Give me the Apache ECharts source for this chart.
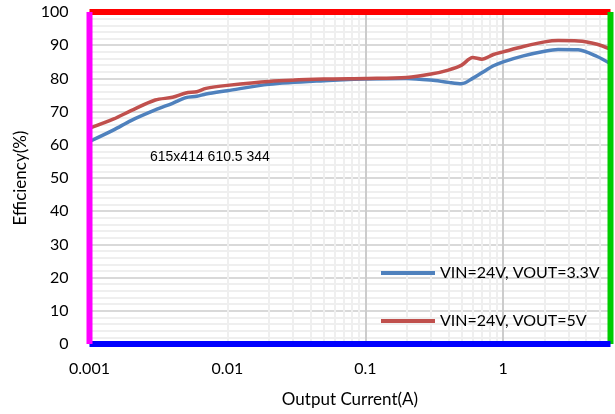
<!DOCTYPE html>
<html><head><meta charset="utf-8">
<script src="https://cdn.jsdelivr.net/npm/echarts@6/dist/echarts.min.js"></script>
<style>html,body{margin:0;padding:0;background:#fff}#c{width:615px;height:414px}</style>
</head><body><div id="c"></div>
<script>
const currents = [0.001,0.0015,0.002,0.003,0.004,0.005,0.006,0.007,0.01,0.02,0.05,0.1,0.2,0.3,0.4,0.5,0.6,0.7,0.85,1,1.4,2,2.5,3.5,4.8,6];
const eff33 = [61,64.5,67.3,70.5,72.5,74.2,74.6,75.3,76.3,78.2,79.3,79.8,80.0,79.5,78.8,78.4,80.0,81.7,83.8,85.0,86.8,88.2,88.7,88.6,86.6,84.4];
const eff5  = [65,67.8,70.3,73.5,74.3,75.6,76.0,77.0,77.9,79.1,79.8,80.0,80.3,81.3,82.5,84.0,86.3,85.8,87.2,88.0,89.6,91.0,91.4,91.3,90.3,88.8];
const seriesNames = ['VIN=24V, VOUT=3.3V','VIN=24V, VOUT=5V'];
const xTickLabels = ['0.001','0.01','0.1','1'];
const xTickValues = [0.001,0.01,0.1,1];
const xMin = 0.001, xMax = 6, yMin = 0, yMax = 100;
const minorX = [];
xTickValues.forEach(d => { for (let k=2;k<=9;k++){ const v=+(d*k).toPrecision(3); if (v<xMax) minorX.push(v);} });

const font = 'Lato';
const G = {left:89.5, right:4.5, top:12, bottom:70};
const chart = echarts.init(document.getElementById('c'));
const W = chart.getWidth(), H = chart.getHeight();
const gl = G.left, gt = G.top, gr = W - G.right, gb = H - G.bottom;
const edge = (x1,y1,x2,y2,c) => ({type:'line', z:100, silent:true,
  shape:{x1:x1,y1:y1,x2:x2,y2:y2}, style:{stroke:c, lineWidth:6}});

chart.setOption({
  animation:false,
  textStyle:{fontFamily:font},
  grid:G,
  graphic:[edge(gl,gt,gr,gt,'#f00'), edge(gr,gt,gr,gb,'#0c0'), edge(gl,gb,gr,gb,'#00f'), edge(gl,gt,gl,gb,'#f0f'),
    {type:'text', left:150, top:150, z:200, style:{text:W+'x'+H+' '+gr+' '+gb, fontSize:14, fill:'#000'}}],
  legend:{
    orient:'vertical', left:376, top:260, itemWidth:54, itemHeight:4, itemGap:32, icon:'rect',
    textStyle:{fontFamily:font,fontSize:16,color:'#000',lineHeight:16},
    data:seriesNames
  },
  xAxis:{
    type:'log', min:xMin, max:xMax, logBase:10,
    name:'Output Current(A)', nameLocation:'middle', nameGap:47,
    nameTextStyle:{fontFamily:font,fontSize:17,color:'#000'},
    axisLine:{show:false}, axisTick:{show:false},
    axisLabel:{fontFamily:font,fontSize:16,color:'#000',margin:17,
      formatter:function(v){ for(let i=0;i<xTickValues.length;i++){ if (Math.abs(Math.log10(v)-Math.log10(xTickValues[i]))<1e-6) return xTickLabels[i]; } return ''; }},
    splitLine:{show:true,lineStyle:{color:'#cccccc',width:2}}
  },
  yAxis:{
    type:'value', min:yMin, max:yMax, interval:10,
    name:'Efficiency(%)', nameLocation:'middle', nameGap:60,
    nameTextStyle:{fontFamily:font,fontSize:17,color:'#000'},
    axisLine:{show:false}, axisTick:{show:false},
    axisLabel:{fontFamily:font,fontSize:16,color:'#000',margin:21},
    splitLine:{show:true,lineStyle:{color:'#d9d9d9',width:2}},
    minorTick:{show:false,splitNumber:5},
    minorSplitLine:{show:true,lineStyle:{color:'#efefef',width:2}}
  },
  series:[
    {name:'minor', type:'line', data:[], silent:true, z:1,
      markLine:{z:1, silent:true, symbol:['none','none'], label:{show:false},
        lineStyle:{color:'#efefef',width:2,type:'solid'},
        data:minorX.map(v=>({xAxis:v}))}},
    {name:seriesNames[0], type:'line', smooth:0.3, symbol:'none', z:3,
      lineStyle:{color:'#4F81BD',width:3.5}, itemStyle:{color:'#4F81BD'},
      data:currents.map((x,i)=>[x,eff33[i]])},
    {name:seriesNames[1], type:'line', smooth:0.3, symbol:'none', z:4,
      lineStyle:{color:'#C0504D',width:3.5}, itemStyle:{color:'#C0504D'},
      data:currents.map((x,i)=>[x,eff5[i]])}
  ]
});
</script></body></html>
